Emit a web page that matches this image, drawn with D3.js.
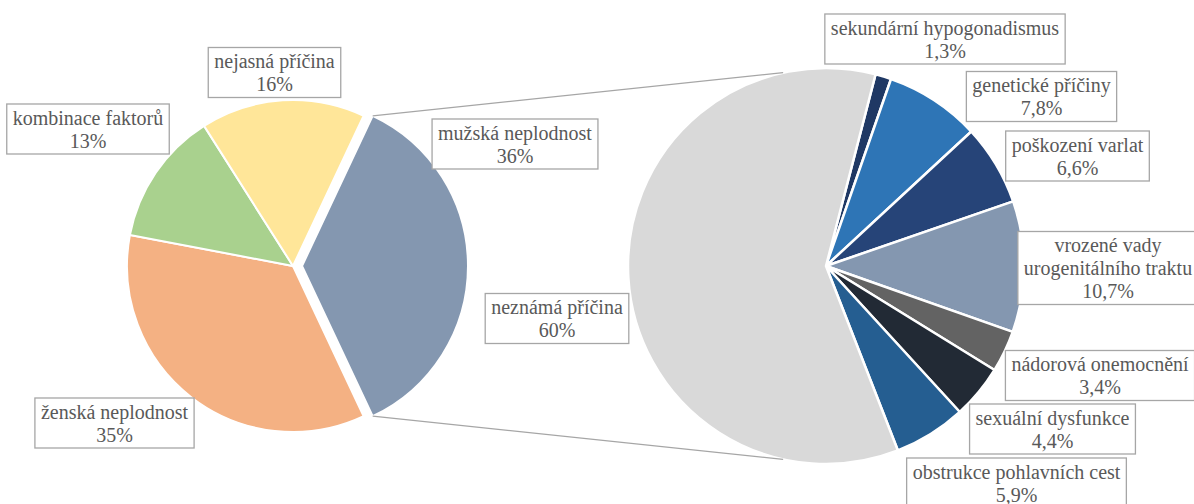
<!DOCTYPE html>
<html><head><meta charset="utf-8">
<script src="https://cdn.jsdelivr.net/npm/d3@7"></script>
<style>
html,body{margin:0;padding:0;background:#fff;}
svg{display:block;}
</style></head><body>
<svg id="chart" width="1194" height="504"></svg>
<script>
// ---- data ----
const mainCategories = ["mužská neplodnost","ženská neplodnost","kombinace faktorů","nejasná příčina"];
const mainValues = [36, 35, 13, 16];
const mainLabels = ["36%","35%","13%","16%"];

const maleCategories = ["sekundární hypogonadismus","genetické příčiny","poškození varlat","vrozené vady\nurogenitálního traktu","nádorová onemocnění","sexuální dysfunkce","obstrukce pohlavních cest","neznámá příčina"];
const maleValues = [1.3, 7.8, 6.6, 10.7, 3.4, 4.4, 5.9, 60];
const maleLabels = ["1,3%","7,8%","6,6%","10,7%","3,4%","4,4%","5,9%","60%"];

// ---- styles / layout ----
const FONT = "'Liberation Serif', 'Times New Roman', Tinos, serif";
const mainColors = ["#8497b0","#f4b183","#a9d18e","#ffe699"];
const maleColors = ["#1f3864","#2e75b6","#264478","#8497b0","#636363","#222a35","#255e91","#d9d9d9"];
const mainLabelPos = [[515,144],[114.5,423],[88,129],[274.5,72.5]];
const maleLabelPos = [[945,39],[1041.5,96.5],[1077.5,156],[1108,268],[1100,375.5],[1052.5,429],[1016.5,483],[557,318.5]];

const svg = d3.select("#chart");
const deg = Math.PI/180;

// left pie
const L = {cx:293, cy:266, r:166, explode:9};
const mainPie = d3.pie().sort(null).value(d=>d)
  .startAngle(25.2*deg).endAngle(385.2*deg);
const mainArcs = mainPie(mainValues);
const arcL = d3.arc().innerRadius(0).outerRadius(L.r);
const gL = svg.append("g").attr("transform",`translate(${L.cx},${L.cy})`);
gL.selectAll("path").data(mainArcs).join("path")
  .attr("d",arcL)
  .attr("fill",(d,i)=>mainColors[i])
  .attr("stroke","#fff").attr("stroke-width",2)
  .attr("transform",(d,i)=>{
    if(i!==0) return null;
    const a=(d.startAngle+d.endAngle)/2;
    return `translate(${L.explode*Math.sin(a)},${-L.explode*Math.cos(a)})`;
  });

// right pie
const R = {cx:826, cy:266, r:198};
const malePie = d3.pie().sort(null).value(d=>d)
  .startAngle(14.5*deg).endAngle(374.5*deg);
const maleArcs = malePie(maleValues);
const arcR = d3.arc().innerRadius(0).outerRadius(R.r);
const gR = svg.append("g").attr("transform",`translate(${R.cx},${R.cy})`);
gR.selectAll("path").data(maleArcs).join("path")
  .attr("d",arcR)
  .attr("fill",(d,i)=>maleColors[i])
  .attr("stroke","#fff").attr("stroke-width",2.5).attr("stroke-linejoin","round");

// connector lines
const m = mainArcs[0];
const mid = (m.startAngle+m.endAngle)/2;
const ex = L.cx + L.explode*Math.sin(mid), ey = L.cy - L.explode*Math.cos(mid);
const p1 = [ex + L.r*Math.sin(m.startAngle), ey - L.r*Math.cos(m.startAngle)];
const p2 = [ex + L.r*Math.sin(m.endAngle), ey - L.r*Math.cos(m.endAngle)];
const q1 = [R.cx + R.r*Math.sin(-12.5*deg), R.cy - R.r*Math.cos(-12.5*deg)];
const q2 = [R.cx + R.r*Math.sin(192.5*deg), R.cy - R.r*Math.cos(192.5*deg)];
svg.append("line").attr("x1",p1[0]).attr("y1",p1[1]).attr("x2",q1[0]).attr("y2",q1[1])
  .attr("stroke","#a6a6a6").attr("stroke-width",1.2);
svg.append("line").attr("x1",p2[0]).attr("y1",p2[1]).attr("x2",q2[0]).attr("y2",q2[1])
  .attr("stroke","#a6a6a6").attr("stroke-width",1.2);

// labels
function label(pos, name, val){
  const lines = name.split("\n").concat([val]);
  const lh = 23;
  const g = svg.append("g").attr("transform",`translate(${pos[0]},${pos[1]})`);
  const rect = g.append("rect");
  const t = g.append("text").attr("text-anchor","middle")
    .attr("font-family",FONT).attr("font-size",20).attr("fill","#595959");
  lines.forEach((s,i)=>{
    t.append("tspan").attr("x",0).attr("y",(i-(lines.length-1)/2)*lh).attr("dy","0.35em").text(s);
  });
  let w=0;
  t.selectAll("tspan").each(function(){ w=Math.max(w,this.getComputedTextLength()); });
  const h = lines.length*lh+4;
  const bw = w+12;
  rect.attr("x",-bw/2).attr("y",-h/2).attr("width",bw).attr("height",h)
    .attr("fill","#fff").attr("stroke","#a6a6a6").attr("stroke-width",1.3);
}
mainCategories.forEach((c,i)=>label(mainLabelPos[i], c, mainLabels[i]));
maleCategories.forEach((c,i)=>label(maleLabelPos[i], c, maleLabels[i]));
</script>
</body></html>
